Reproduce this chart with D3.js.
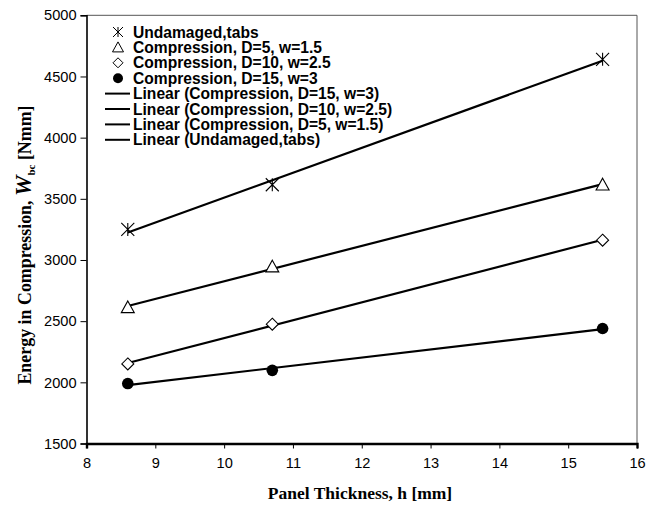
<!DOCTYPE html>
<html>
<head>
<meta charset="utf-8">
<script src="https://cdn.jsdelivr.net/npm/d3@7"></script>
<style>
  html, body { margin: 0; padding: 0; background: #fff; }
  svg { display: block; }
</style>
</head>
<body>
<svg id="chart" width="657" height="513"></svg>
<script>
// Panel thickness (mm) at which each panel type was tested
const thickness = [8.6, 10.7, 15.5];

// Energy absorbed in compression, W_bc [Nmm]
const undamagedTabs = [3250, 3615, 4640];
const compD5 = [2612, 2945, 3615];
const compD10 = [2150, 2475, 3162];
const compD15 = [1990, 2098, 2440];

const xTicks = [8, 9, 10, 11, 12, 13, 14, 15, 16];
const yTicks = [1500, 2000, 2500, 3000, 3500, 4000, 4500, 5000];

const markerLabels = [
  "Undamaged,tabs",
  "Compression, D=5, w=1.5",
  "Compression, D=10, w=2.5",
  "Compression, D=15, w=3"
];
const trendLabels = [
  "Linear (Compression, D=15, w=3)",
  "Linear (Compression, D=10, w=2.5)",
  "Linear (Compression, D=5, w=1.5)",
  "Linear (Undamaged,tabs)"
];

const series = [
  { values: undamagedTabs, marker: "star" },
  { values: compD5, marker: "triangle" },
  { values: compD10, marker: "diamond" },
  { values: compD15, marker: "circle" }
];

const svg = d3.select("#chart");
const plotL = 86.5, plotR = 637, plotT = 15.3, plotB = 443.5;

const x = d3.scaleLinear().domain([8, 16]).range([plotL, plotR]);
const y = d3.scaleLinear().domain([1500, 5000]).range([plotB, plotT]);

const sans = "Liberation Sans, Arial, sans-serif";
const serif = "Liberation Serif, Times New Roman, serif";

// frame: thin grey on top/right
svg.append("line").attr("x1", plotL).attr("x2", plotR).attr("y1", plotT).attr("y2", plotT)
  .attr("stroke", "#555").attr("stroke-width", 1);
svg.append("line").attr("x1", plotR).attr("x2", plotR).attr("y1", plotT).attr("y2", plotB)
  .attr("stroke", "#555").attr("stroke-width", 1);

// y axis
const yAxis = svg.append("g").attr("transform", `translate(${plotL},0)`)
  .call(d3.axisLeft(y).tickValues(yTicks).tickSize(6).tickPadding(4).tickFormat(d3.format("d")));
yAxis.select(".domain").attr("stroke", "#000").attr("stroke-width", 1.6);
yAxis.selectAll(".tick line").attr("stroke", "#000").attr("stroke-width", 1);
yAxis.selectAll("text").attr("font-family", sans)
  .attr("font-size", "14.6px").attr("fill", "#000");

// x axis
const xAxis = svg.append("g").attr("transform", `translate(0,${plotB})`)
  .call(d3.axisBottom(x).tickValues(xTicks).tickSize(5).tickPadding(9).tickFormat(d3.format("d")));
xAxis.select(".domain").attr("stroke", "#000").attr("stroke-width", 2.4);
xAxis.selectAll(".tick line").attr("stroke", "#000").attr("stroke-width", 1);
xAxis.selectAll("text").attr("font-family", sans)
  .attr("font-size", "14.6px").attr("fill", "#000");

// least-squares trend line through each series
function fit(xs, ys) {
  const mx = d3.mean(xs), my = d3.mean(ys);
  const sxy = d3.sum(xs, (v, i) => (v - mx) * (ys[i] - my));
  const sxx = d3.sum(xs, v => (v - mx) * (v - mx));
  const b = sxy / sxx;
  return { a: my - b * mx, b };
}

const line = d3.line().x(d => x(d[0])).y(d => y(d[1]));
const x0 = d3.min(thickness), x1 = d3.max(thickness);
series.forEach(s => {
  const f = fit(thickness, s.values);
  svg.append("path")
    .attr("d", line([[x0, f.a + f.b * x0], [x1, f.a + f.b * x1]]))
    .attr("fill", "none").attr("stroke", "#000").attr("stroke-width", 2.2);
});

// marker shapes
function drawMarker(g, type, cx, cy) {
  if (type === "star") {
    const r = 6.5;
    g.append("path")
      .attr("d", `M${cx - r},${cy - r}L${cx + r},${cy + r}M${cx - r},${cy + r}L${cx + r},${cy - r}M${cx},${cy - r}L${cx},${cy + r}`)
      .attr("stroke", "#000").attr("stroke-width", 1.1).attr("fill", "none");
  } else if (type === "triangle") {
    const r = 6.5;
    g.append("path")
      .attr("d", `M${cx},${cy - r}L${cx + r},${cy + r * 0.8}L${cx - r},${cy + r * 0.8}Z`)
      .attr("stroke", "#000").attr("stroke-width", 1.1).attr("fill", "#fff");
  } else if (type === "diamond") {
    const r = 6;
    g.append("path")
      .attr("d", `M${cx},${cy - r}L${cx + r},${cy}L${cx},${cy + r}L${cx - r},${cy}Z`)
      .attr("stroke", "#000").attr("stroke-width", 1.1).attr("fill", "#fff");
  } else {
    g.append("circle").attr("cx", cx).attr("cy", cy).attr("r", 5.8).attr("fill", "#000");
  }
}

const marks = svg.append("g");
series.forEach(s => {
  s.values.forEach((v, i) => drawMarker(marks, s.marker, x(thickness[i]), y(v)));
});

// legend
const legend = svg.append("g");
const rowH = 15.4, firstRow = 32;
const markerKeys = series.map(s => s.marker);
markerLabels.forEach((lbl, i) => {
  const cy = firstRow + i * rowH;
  const sm = legend.append("g");
  if (markerKeys[i] === "circle") {
    sm.append("circle").attr("cx", 118).attr("cy", cy).attr("r", 5).attr("fill", "#000");
  } else if (markerKeys[i] === "star") {
    const r = 5;
    sm.append("path")
      .attr("d", `M${118 - r},${cy - r}L${118 + r},${cy + r}M${118 - r},${cy + r}L${118 + r},${cy - r}M118,${cy - r}L118,${cy + r}`)
      .attr("stroke", "#000").attr("stroke-width", 1);
  } else if (markerKeys[i] === "triangle") {
    sm.append("path").attr("d", `M118,${cy - 5.5}L${123.5},${cy + 4.5}L${112.5},${cy + 4.5}Z`)
      .attr("stroke", "#000").attr("stroke-width", 1).attr("fill", "#fff");
  } else {
    sm.append("path").attr("d", `M118,${cy - 5}L123,${cy}L118,${cy + 5}L113,${cy}Z`)
      .attr("stroke", "#000").attr("stroke-width", 1).attr("fill", "#fff");
  }
  legend.append("text").attr("x", 133).attr("y", cy).attr("dy", "0.36em")
    .attr("font-family", sans).attr("font-weight", "bold").attr("font-size", "15.6px")
    .text(lbl);
});
trendLabels.forEach((lbl, i) => {
  const cy = firstRow + (i + 4) * rowH;
  legend.append("line").attr("x1", 105).attr("x2", 130).attr("y1", cy).attr("y2", cy)
    .attr("stroke", "#000").attr("stroke-width", 2);
  legend.append("text").attr("x", 133).attr("y", cy).attr("dy", "0.36em")
    .attr("font-family", sans).attr("font-weight", "bold").attr("font-size", "15.6px")
    .text(lbl);
});

// axis titles
svg.append("text").attr("x", 360).attr("y", 499)
  .attr("text-anchor", "middle").attr("font-family", serif).attr("font-weight", "bold")
  .attr("font-size", "17.5px").text("Panel Thickness, h [mm]");

const yt = svg.append("text")
  .attr("transform", "translate(31,245) rotate(-90)")
  .attr("text-anchor", "middle").attr("font-family", serif).attr("font-weight", "bold")
  .attr("font-size", "17.9px");
yt.append("tspan").text("Energy in Compression, ");
yt.append("tspan").attr("font-style", "italic").attr("font-size", "23px").text("W");
yt.append("tspan").attr("font-size", "11px").attr("dy", "4").text("bc");
yt.append("tspan").attr("dy", "-4").text(" [Nmm]");
</script>
</body>
</html>
